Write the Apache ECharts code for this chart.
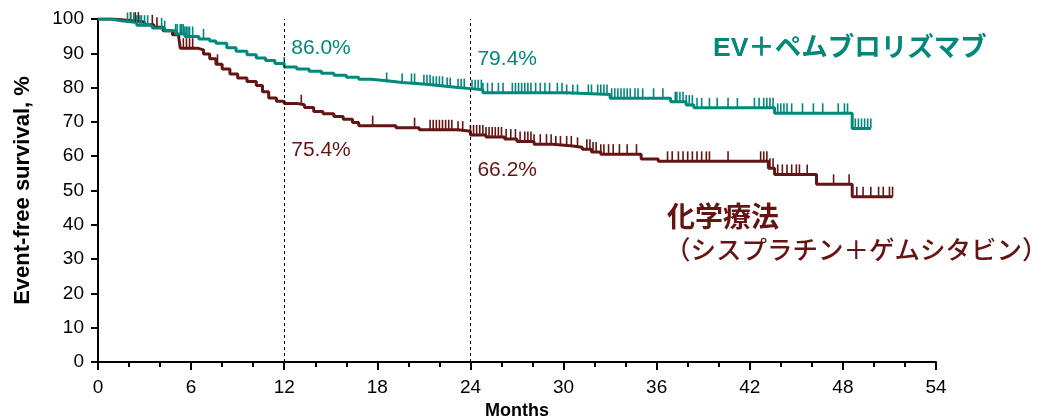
<!DOCTYPE html>
<html>
<head>
<meta charset="utf-8">
<script src="https://cdn.jsdelivr.net/npm/echarts@6/dist/echarts.min.js"></script>
<style>
  html, body { margin: 0; padding: 0; background: #ffffff; }
  #chart { width: 1043px; height: 420px; }
</style>
</head>
<body>
<div id="chart"></div>
<script>
// Kaplan–Meier event-free survival, EV + pembrolizumab vs chemotherapy

// Axis ticks
const xTickMonths = [0, 6, 12, 18, 24, 30, 36, 42, 48, 54];
const yTickPercents = [0, 10, 20, 30, 40, 50, 60, 70, 80, 90, 100];

// EV + pembrolizumab: times of steps (months) and survival after each step (%)
const evEventMonths = [0, 0.8, 1.5, 2.5, 3.5, 4.3, 5.0, 5.6, 6.5, 7.2, 7.6, 8.3, 8.9, 9.6, 10.2, 10.8, 11.4, 12.0,
  12.8, 13.6, 14.4, 15.2, 16.0, 16.8, 17.6, 18.6, 19.6, 20.5, 21.5, 22.4, 23.2, 24.0,
  24.8, 30.2, 33.0, 36.9, 37.9, 38.4, 43.6, 48.6];
const evEventSurvival = [100, 99.5, 99.0, 98.2, 97.4, 96.6, 95.6, 94.9, 94.2, 93.6, 92.9, 91.6, 90.6, 89.6, 88.6, 87.9, 87.0, 86.0,
  85.4, 84.8, 84.2, 83.6, 83.0, 82.4, 82.0, 81.5, 81.2, 80.8, 80.4, 80.0, 79.7, 79.4,
  78.5, 78.0, 76.9, 75.9, 74.9, 74.1, 72.5, 68.1];
// EV + pembrolizumab: censoring times (months)
const evCensorMonths = [1.9, 2.1, 2.3, 2.5, 2.7, 2.8, 3.0, 3.2, 4.1, 4.3, 5.0, 5.1, 5.3, 5.4, 5.5, 5.6, 5.7, 5.8, 5.9, 6.1, 6.8,
  12.0, 18.6, 19.6, 20.2, 20.4, 21.0, 21.2, 21.4, 21.6, 21.8, 22.0, 22.2, 22.5, 22.7, 23.2, 23.4, 23.6,
  24.1, 24.3, 24.5, 24.7, 24.8, 25.1, 25.4, 25.8, 26.1, 26.7, 26.9, 27.1, 27.3, 27.5, 27.7, 27.9, 28.2, 28.5,
  28.8, 29.1, 29.6, 29.9, 30.2, 30.6, 30.9, 31.6, 31.8, 32.2, 32.4, 32.6, 32.8, 33.1, 33.3, 33.5, 33.7, 33.9,
  34.1, 34.3, 34.6, 34.8, 35.1, 35.8, 36.4, 37.2, 37.3, 37.5, 37.7, 37.9, 38.1, 38.3, 38.6, 38.9, 39.4, 39.9,
  40.6, 41.2, 42.3, 42.6, 42.9, 43.1, 43.3, 43.5, 43.8, 44.0, 44.2, 44.4, 44.7, 45.4, 46.1, 46.7, 47.7, 48.1,
  48.3, 48.8, 49.0, 49.2, 49.4, 49.6, 49.8];

// Chemotherapy: times of steps (months) and survival after each step (%)
const chemoEventMonths = [0, 1.0, 2.0, 3.0, 3.6, 4.2, 4.8, 5.2, 5.3, 6.4, 6.8, 7.2, 7.6, 8.0, 8.5, 9.0, 9.6, 10.2, 10.6,
  11.0, 11.5, 12.0, 12.8, 13.3, 13.9, 14.5, 15.2, 15.8, 16.4, 16.8, 19.2, 20.7, 23.2, 24.0, 25.0, 26.2, 27.0,
  28.1, 29.3, 30.6, 31.2, 31.8, 32.4, 35.0, 36.1, 43.2, 43.6, 46.3, 48.6];
const chemoEventSurvival = [100, 99.6, 99.1, 98.3, 97.6, 96.6, 95.4, 94.8, 91.5, 91.0, 89.8, 88.4, 86.8, 85.4, 84.0, 82.8, 81.8, 80.6, 78.8,
  77.0, 76.0, 75.4, 75.0, 74.2, 73.0, 72.4, 71.6, 70.8, 69.8, 68.9, 68.3, 67.7, 67.3, 66.2, 65.6, 65.0, 64.3,
  63.5, 63.0, 62.6, 62.0, 61.2, 60.6, 59.2, 58.5, 56.5, 54.7, 51.8, 48.2];
// Chemotherapy: censoring times (months)
const chemoCensorMonths = [2.1, 2.4, 2.6, 3.5, 3.8, 5.5, 5.7, 5.9, 6.1, 7.7, 13.1, 17.7, 20.4,
  21.4, 21.6, 21.8, 22.0, 22.2, 22.4, 22.6, 22.8, 23.2, 23.5,
  24.0, 24.2, 24.4, 24.6, 24.8, 25.0, 25.2, 25.4, 25.6, 25.8, 26.0, 26.3, 26.6, 26.9, 27.2, 27.5, 27.7, 27.9, 28.1,
  28.5, 28.9, 29.2, 29.5, 29.8, 30.2, 30.5, 30.9, 31.5, 31.7, 31.9, 32.1, 32.4, 32.6, 32.9, 33.2,
  33.6, 34.1, 34.7, 36.7, 37.0, 37.4, 37.7, 38.0, 38.3, 38.6, 38.9, 39.2, 39.4, 40.6,
  42.7, 42.9, 43.1, 43.3, 43.5, 43.8, 44.1, 44.4, 44.7, 45.0, 45.2, 45.7, 47.4, 48.4,
  48.9, 49.3, 49.8, 50.3, 50.6, 51.0, 51.2];

// Landmark estimates at 12 and 24 months
const landmarkMonths = [12, 24];
const evLandmarkSurvival = [86.0, 79.4];
const chemoLandmarkSurvival = [75.4, 66.2];

const EV_COLOR = '#00897b';
const CHEMO_COLOR = '#651414';
const LATIN = '"Liberation Sans", Arial, sans-serif';
const CJK = '"Liberation Sans", "Noto Sans CJK JP", sans-serif';

// label offsets (px) for the landmark estimates, per landmark
const evLabelOffsets = [[1, -19], [1, -30]];
const chemoLabelOffsets = [[1, 47], [1, 35]];

// value of a step curve at time t
function survivalAt(months, surv, t) {
  let v = surv[0];
  for (let i = 0; i < months.length; i++) {
    if (months[i] <= t + 1e-9) v = surv[i];
  }
  return v;
}

function curveData(months, surv, censors) {
  const pts = months.map((m, i) => [m, surv[i]]);
  const last = censors[censors.length - 1];
  pts.push([last, survivalAt(months, surv, last)]);
  return pts;
}

function censorData(months, surv, censors) {
  return censors.map(t => [t, survivalAt(months, surv, t)]);
}

function landmarkData(values, offsets) {
  return landmarkMonths.map((m, i) => ({ value: [m, values[i]], label: { offset: offsets[i] } }));
}

const chart = echarts.init(document.getElementById('chart'), null, { renderer: 'canvas' });

const censorStyle = (color) => ({
  type: 'scatter',
  symbol: 'rect',
  symbolSize: [1.6, 10],
  symbolOffset: [0, -5],
  itemStyle: { color: color, opacity: 1 },
  silent: true,
  z: 3
});

const landmarkLabel = (color) => ({
  show: true, position: 'right', distance: 6,
  fontFamily: LATIN, fontSize: 21, color: color, opacity: 1,
  formatter: (p) => p.value[1].toFixed(1) + '%'
});

chart.setOption({
  animation: false,
  backgroundColor: '#ffffff',
  grid: { left: 98, right: 107, top: 19, bottom: 58, containLabel: false, outerBoundsMode: 'none' },
  xAxis: {
    type: 'value',
    min: 0,
    max: 54,
    interval: 6,
    name: 'Months',
    nameLocation: 'middle',
    nameGap: 39,
    nameTextStyle: { fontFamily: LATIN, fontWeight: 'bold', fontSize: 18, color: '#000' },
    axisLine: { show: true, onZero: false, lineStyle: { color: '#000', width: 2 } },
    axisTick: { show: true, length: 8, lineStyle: { color: '#000', width: 2 } },
    minorTick: { show: true, splitNumber: 3, length: 5, lineStyle: { color: '#000', width: 2 } },
    axisLabel: { margin: 16, fontFamily: LATIN, fontSize: 19, color: '#000',
      formatter: (v) => xTickMonths.includes(v) ? String(v) : '' },
    splitLine: { show: false }
  },
  yAxis: {
    type: 'value',
    min: 0,
    max: 100,
    interval: 10,
    name: 'Event-free survival, %',
    nameLocation: 'middle',
    nameGap: 64,
    nameRotate: 90,
    nameTextStyle: { fontFamily: LATIN, fontWeight: 'bold', fontSize: 22, color: '#000' },
    axisLine: { show: true, onZero: false, lineStyle: { color: '#000', width: 2 } },
    axisTick: { show: true, length: 7, lineStyle: { color: '#000', width: 2 } },
    axisLabel: { margin: 14, fontFamily: LATIN, fontSize: 19, color: '#000',
      formatter: (v) => yTickPercents.includes(v) ? String(v) : '' },
    splitLine: { show: false }
  },
  series: [
    {
      name: '化学療法',
      type: 'line',
      step: 'end',
      showSymbol: false,
      data: curveData(chemoEventMonths, chemoEventSurvival, chemoCensorMonths),
      lineStyle: { color: CHEMO_COLOR, width: 3 },
      itemStyle: { color: CHEMO_COLOR },
      z: 2,
      markLine: {
        silent: true,
        symbol: ['none', 'none'],
        label: { show: false },
        lineStyle: { color: '#000', type: [3, 3], width: 1 },
        data: landmarkMonths.map(m => ({ xAxis: m }))
      }
    },
    Object.assign(censorStyle(CHEMO_COLOR), {
      data: censorData(chemoEventMonths, chemoEventSurvival, chemoCensorMonths)
    }),
    {
      name: 'EV＋ペムブロリズマブ',
      type: 'line',
      step: 'end',
      showSymbol: false,
      data: curveData(evEventMonths, evEventSurvival, evCensorMonths),
      lineStyle: { color: EV_COLOR, width: 3 },
      itemStyle: { color: EV_COLOR },
      z: 2
    },
    Object.assign(censorStyle(EV_COLOR), {
      data: censorData(evEventMonths, evEventSurvival, evCensorMonths)
    }),
    // landmark labels
    {
      type: 'scatter',
      symbolSize: 0,
      silent: true,
      itemStyle: { opacity: 1 },
      data: landmarkData(evLandmarkSurvival, evLabelOffsets),
      label: landmarkLabel(EV_COLOR),
      z: 5
    },
    {
      type: 'scatter',
      symbolSize: 0,
      silent: true,
      itemStyle: { opacity: 1 },
      data: landmarkData(chemoLandmarkSurvival, chemoLabelOffsets),
      label: landmarkLabel(CHEMO_COLOR),
      z: 5
    }
  ],
  graphic: [
    {
      type: 'text', left: 713, top: 35,
      style: { text: 'EV＋ペムブロリズマブ', font: 'bold 26.5px ' + CJK, fill: EV_COLOR }
    },
    {
      type: 'text', left: 667, top: 205,
      style: { text: '化学療法', font: 'bold 28px ' + CJK, fill: CHEMO_COLOR }
    },
    {
      type: 'text', left: 665, top: 239,
      style: { text: '（シスプラチン＋ゲムシタビン）', font: '500 25.5px ' + CJK, fill: CHEMO_COLOR }
    }
  ]
});
</script>
</body>
</html>
